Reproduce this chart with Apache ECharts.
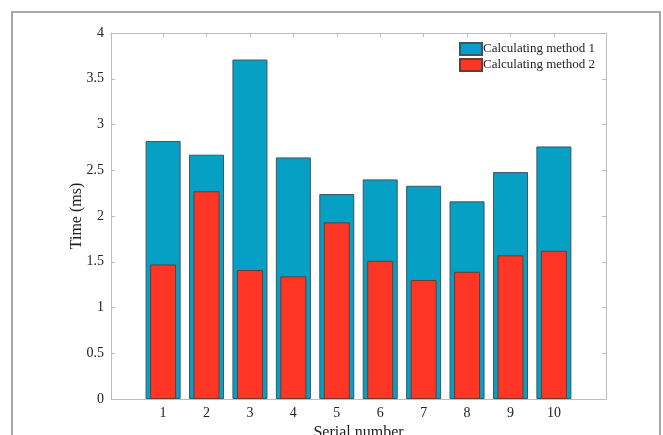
<!DOCTYPE html>
<html>
<head>
<meta charset="utf-8">
<script src="https://cdn.jsdelivr.net/npm/echarts@6/dist/echarts.min.js"></script>
<style>
  html, body { margin: 0; padding: 0; background: #fff; }
  #chart { width: 663px; height: 435px; }
</style>
</head>
<body>
<div id="chart"></div>
<script>
// Serial numbers and timing results (ms) for the two calculating methods
const serials = [1, 2, 3, 4, 5, 6, 7, 8, 9, 10];
const method1 = [2.82, 2.67, 3.71, 2.64, 2.24, 2.40, 2.33, 2.16, 2.48, 2.76];
const method2 = [1.47, 2.27, 1.41, 1.34, 1.93, 1.51, 1.30, 1.39, 1.57, 1.62];
const yTicks = [0, 0.5, 1, 1.5, 2, 2.5, 3, 3.5, 4];
const seriesNames = ['Calculating method 1', 'Calculating method 2'];

const FONT = 'Liberation Serif';
const AXIS_GRAY = '#bdbdbd';
const TEXT = '#222';

const chart = echarts.init(document.getElementById('chart'));

const baseX = {
  type: 'value',
  min: -0.2,
  max: 11.2,
  splitLine: { show: false },
  axisLine: { show: true, onZero: false, lineStyle: { color: AXIS_GRAY, width: 1 } },
  axisTick: { show: true, inside: true, length: 4, customValues: serials, lineStyle: { color: AXIS_GRAY } }
};
const baseY = {
  type: 'value',
  min: 0,
  max: 4,
  interval: 0.5,
  splitLine: { show: false },
  axisLine: { show: true, onZero: false, lineStyle: { color: AXIS_GRAY, width: 1 } },
  axisTick: { show: true, inside: true, length: 4, customValues: yTicks, lineStyle: { color: AXIS_GRAY } }
};

chart.setOption({
  animation: false,
  backgroundColor: '#fff',
  graphic: [{
    type: 'rect',
    shape: { x: 12, y: 12, width: 648, height: 440 },
    style: { fill: 'none', stroke: '#a6a6a6', lineWidth: 2 },
    silent: true
  }],
  grid: { left: 111, right: 57, top: 33, bottom: 36, containLabel: false, outerBoundsMode: 'none' },
  legend: {
    orient: 'vertical',
    left: 459,
    top: 42,
    padding: 0,
    itemWidth: 22,
    itemHeight: 12,
    itemGap: 2,
    icon: 'rect',
    data: seriesNames,
    textStyle: { fontFamily: FONT, fontSize: 13, lineHeight: 13, color: TEXT, padding: [0, 0, 0, -4] }
  },
  xAxis: [
    Object.assign({}, baseX, {
      position: 'bottom',
      name: 'Serial number',
      nameLocation: 'middle',
      nameGap: 26,
      nameMoveOverlap: false,
      nameTextStyle: { fontFamily: FONT, fontSize: 16, color: TEXT },
      axisLabel: {
        customValues: serials,
        margin: 7,
        fontFamily: FONT, fontSize: 14, color: TEXT
      }
    }),
    Object.assign({}, baseX, {
      position: 'top',
      axisLabel: { show: false }
    })
  ],
  yAxis: [
    Object.assign({}, baseY, {
      position: 'left',
      name: 'Time (ms)',
      nameLocation: 'middle',
      nameGap: 26,
      nameRotate: 90,
      nameMoveOverlap: false,
      nameTextStyle: { fontFamily: FONT, fontSize: 16, color: TEXT },
      axisLabel: { margin: 7, fontFamily: FONT, fontSize: 14, color: TEXT }
    }),
    Object.assign({}, baseY, {
      position: 'right',
      axisLabel: { show: false }
    })
  ],
  series: [
    {
      name: seriesNames[0],
      type: 'bar',
      xAxisIndex: 0,
      yAxisIndex: 0,
      barWidth: 35,
      data: serials.map((s, i) => [s, method1[i]]),
      itemStyle: { color: '#06a0c4', borderColor: '#3d5560', borderWidth: 1 }
    },
    {
      name: seriesNames[1],
      type: 'bar',
      xAxisIndex: 1,
      yAxisIndex: 0,
      barWidth: 26,
      data: serials.map((s, i) => [s, method2[i]]),
      itemStyle: { color: '#ff3526', borderColor: '#6a3a30', borderWidth: 1 }
    }
  ]
});
</script>
</body>
</html>
